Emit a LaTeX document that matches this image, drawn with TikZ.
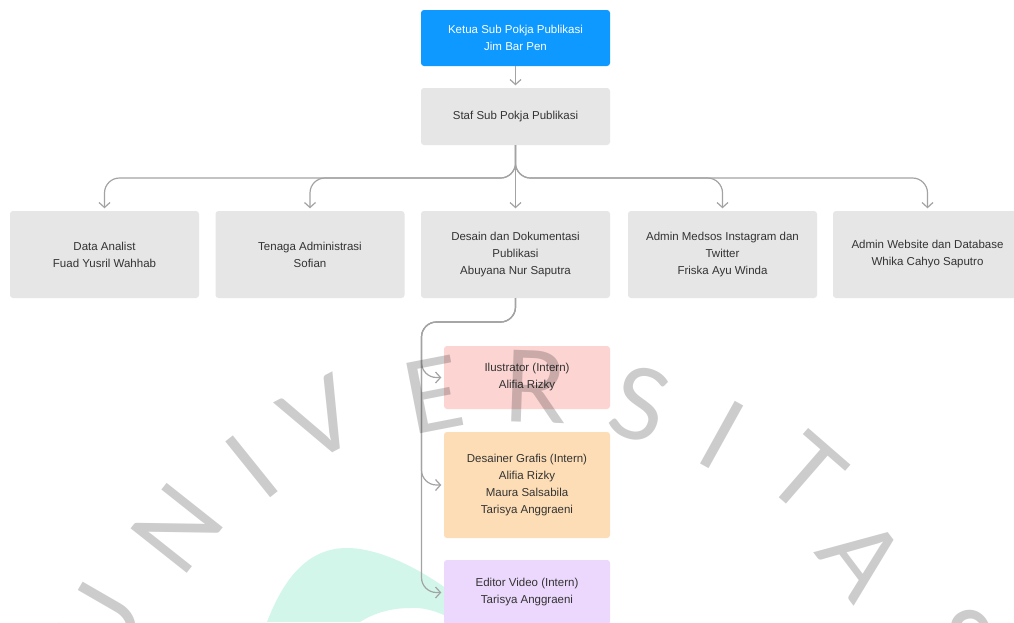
\documentclass[tikz,border=0pt]{standalone}
\usepackage{fontspec}
\setmainfont{Liberation Sans}
\newfontfamily\wmfont{Lato}
\usetikzlibrary{arrows.meta,calc}
\definecolor{cblue}{HTML}{0D99FF}
\definecolor{cgray}{HTML}{E6E6E6}
\definecolor{cpink}{HTML}{FCD5D3}
\definecolor{corange}{HTML}{FDDDB6}
\definecolor{cpurple}{HTML}{EBD8FC}
\definecolor{cline}{HTML}{A3A3A3}
\definecolor{ctext}{HTML}{333333}
\definecolor{cteal}{HTML}{D2F6EA}
\begin{document}
\begin{tikzpicture}[x=1pt,y=-1pt,
  box/.style={rounded corners=3pt, inner sep=0pt, align=center, text=ctext,
    font=\fontsize{11.5}{17}\selectfont},
  wide/.style={minimum width=189pt},
  narrow/.style={minimum width=166pt},
  conn/.style={draw=cline, line width=1.2pt, rounded corners=15pt,
    -{Straight Barb[length=5pt,width=11pt]}, shorten >=2.5pt},
  wm/.style={font=\wmfont\fontsize{100}{100}\selectfont, text=black,
    text opacity=0.2, inner sep=0pt}]
\clip (0,0) rectangle (1014,622);
\useasboundingbox (0,0) rectangle (1014,622);
\fill[white] (0,0) rectangle (1014,622);
% background blob
\fill[cteal] (267,622) .. controls (285,575) and (310,548) .. (347,548)
  .. controls (390,548) and (450,585) .. (485,622) -- (458,622)
  .. controls (440,612) and (425,607) .. (410,608)
  .. controls (390,608) and (372,614) .. (360,622) -- cycle;
% boxes
\node[box, wide, fill=cblue, text=white, minimum height=56pt] (ketua) at (515.5,38)
  {Ketua Sub Pokja Publikasi\\Jim Bar Pen};
\node[box, wide, fill=cgray, minimum height=57pt] (staf) at (515.5,116.5)
  {Staf Sub Pokja Publikasi};
\node[box, wide, fill=cgray, minimum height=87pt] (b1) at (104.5,254.5)
  {Data Analist\\Fuad Yusril Wahhab};
\node[box, wide, fill=cgray, minimum height=87pt] (b2) at (310,254.5)
  {Tenaga Administrasi\\Sofian};
\node[box, wide, fill=cgray, minimum height=87pt] (b3) at (515.5,254.5)
  {Desain dan Dokumentasi\\Publikasi\\Abuyana Nur Saputra};
\node[box, wide, fill=cgray, minimum height=87pt] (b4) at (722.5,254.5)
  {Admin Medsos Instagram dan\\Twitter\\Friska Ayu Winda};
\node[box, wide, fill=cgray, minimum height=87pt] (b5) at (927.5,254.5)
  {Admin Website dan Database\\Whika Cahyo Saputro};
\node[box, narrow, fill=cpink, minimum height=63pt] (pink) at (527,377.5)
  {Ilustrator (Intern)\\Alifia Rizky};
\node[box, narrow, fill=corange, minimum height=106pt] (orange) at (527,485)
  {Desainer Grafis (Intern)\\Alifia Rizky\\Maura Salsabila\\Tarisya Anggraeni};
\node[box, narrow, fill=cpurple, minimum height=65pt] (purple) at (527,592.5)
  {Editor Video (Intern)\\Tarisya Anggraeni};
% connectors
\coordinate (hb) at (515.5,178);
\coordinate (lb) at (421.5,322);
\draw[conn] (ketua) -- (staf);
\draw[conn] (staf.south) -- (b3.north);
\draw[conn] (staf.south) |- (hb -| b1.north) -- (b1.north);
\draw[conn] (staf.south) |- (hb -| b2.north) -- (b2.north);
\draw[conn] (staf.south) |- (hb -| b4.north) -- (b4.north);
\draw[conn] (staf.south) |- (hb -| b5.north) -- (b5.north);
\draw[conn] (b3.south) |- (lb) |- (pink.west);
\draw[conn] (b3.south) |- (lb) |- (orange.west);
\draw[conn] (b3.south) |- (lb) |- (purple.west);
% watermark
\node[wm, rotate=60] (wU) at (100,625) {U};
\node[wm, rotate=51.6] (wN) at (177,528) {N};
\node[wm, rotate=38.8] (wI1) at (252,467) {I};
\node[wm, rotate=27.7] (wV) at (320,419) {V};
\node[wm, rotate=11] (wE) at (433,395) {E};
\node[wm, rotate=-2] (wR) at (535,387) {R};
\node[wm, rotate=-17] (wS1) at (640,404) {S};
\node[wm, rotate=-29] (wI2) at (722,435) {I};
\node[wm, rotate=-41] (wT) at (806,474) {T};
\node[wm, rotate=-53] (wA) at (862,558) {A};
\node[wm, rotate=-68] (wS2) at (955,637) {S};
\end{tikzpicture}
\end{document}
